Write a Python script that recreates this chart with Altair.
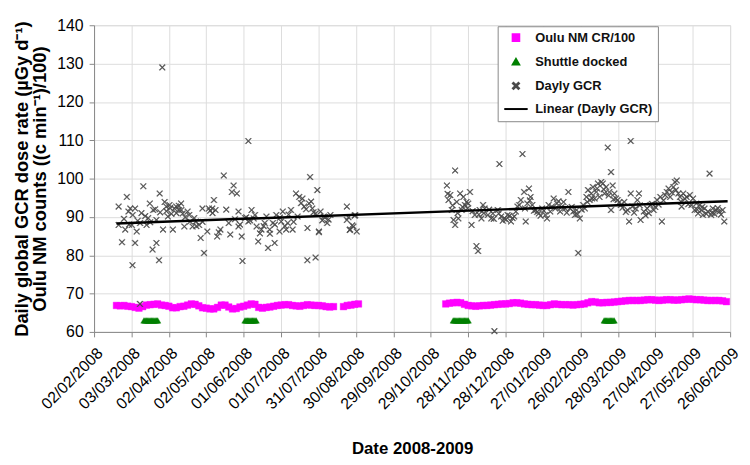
import altair as alt
import pandas as pd

BASE = pd.Timestamp("2008-02-02")

tick_labels = ["02/02/2008", "03/03/2008", "02/04/2008", "02/05/2008", "01/06/2008",
               "01/07/2008", "31/07/2008", "30/08/2008", "29/09/2008", "29/10/2008",
               "28/11/2008", "28/12/2008", "27/01/2009", "26/02/2009", "28/03/2009",
               "27/04/2009", "27/05/2009", "26/06/2009"]
y_ticks = [60, 70, 80, 90, 100, 110, 120, 130, 140]

series_names = ["Oulu NM CR/100", "Shuttle docked", "Dayly GCR", "Linear (Dayly GCR)"]
series_colors = ["#FF00FF", "#008000", "#4a4a4a", "#000000"]
X_PATH = "M-1,-0.8L-0.8,-1L0,-0.2L0.8,-1L1,-0.8L0.2,0L1,0.8L0.8,1L0,0.2L-0.8,1L-1,0.8L-0.2,0Z"
series_shapes = ["square", "triangle-up", X_PATH, "M-4,0L4,0"]
series_sizes = [45, 35, 16, 30]

# Oulu NM CR/100 : segments, first day (days after 02/02/2008), one value every 3 days
oulu_seg_first_day = [18, 200, 282]
oulu_seg_step = 3
oulu_seg_values = [
    [66.9, 66.8, 66.9, 66.7, 66.6, 66.4, 66.2, 66.6, 67.0, 67.1, 67.2, 67.3, 67.0, 66.9, 66.7,
     66.3, 66.3, 66.6, 66.7, 67.0, 67.3, 67.2, 66.8, 66.3, 66.2, 66.0, 66.0, 66.4, 67.0, 67.0,
     66.5, 66.0, 66.1, 66.5, 66.7, 67.0, 67.3, 67.2, 66.4, 66.2, 66.4, 66.5, 66.7, 66.9, 67.0,
     67.1, 67.1, 66.9, 66.8, 66.7, 66.9, 67.1, 67.0, 66.9, 66.9, 66.8, 66.6, 66.5, 66.6],
    [66.6, 66.9, 67.0, 67.2, 67.3],
    [67.3, 67.5, 67.6, 67.7, 67.6, 67.2, 66.9, 66.8, 66.7, 66.8, 66.9, 66.9, 67.0, 67.1, 67.2,
     67.3, 67.3, 67.4, 67.6, 67.6, 67.5, 67.3, 67.2, 67.1, 67.1, 67.0, 66.9, 66.9, 67.1, 67.3,
     67.2, 67.1, 67.1, 67.1, 67.0, 67.1, 67.2, 67.3, 67.6, 67.9, 67.8, 67.6, 67.6, 67.7, 67.7,
     67.8, 67.9, 68.0, 68.1, 68.2, 68.2, 68.2, 68.2, 68.3, 68.4, 68.4, 68.3, 68.2, 68.3, 68.4,
     68.4, 68.3, 68.3, 68.4, 68.5, 68.6, 68.5, 68.4, 68.4, 68.3, 68.2, 68.2, 68.2, 68.2, 68.1,
     67.9],
]

# Shuttle docked periods
shuttle_start = ["2008-03-13", "2008-06-02", "2008-11-16", "2009-03-17"]
shuttle_end = ["2008-03-24", "2008-06-11", "2008-11-28", "2009-03-25"]
shuttle_level = 63.0

# Dayly GCR (day after 02/02/2008, value)
gcr_day = [19.7, 19.7, 22.4, 25, 26.3, 27.6, 29, 30.3, 30.8, 32.9, 32.9, 34.2, 36.8, 36.9, 39.5,
           42.1, 43.4, 44.7, 46.9, 47.4, 50, 50, 52.1, 52.6, 54.7, 55.3, 56.6, 57.9, 59.2, 60.5,
           63.2, 64.5, 65.8, 67.9, 69.8, 71.1, 72.4, 75, 76.3, 79, 80.3, 81.6, 84.2, 85.5, 86.9,
           88.2, 90.8, 92.1, 94.8, 96.1, 97.4, 98.7, 101.3, 104, 109.2, 110.5, 111.9, 114.5,
           115.8, 115.8, 118.4, 119, 121.1, 123.7, 123.7, 126.3, 129, 130.3, 131.6, 134.2, 136.9,
           138.2, 139.5, 140.8, 143.4, 144.8, 146.1, 148.7, 150, 151.3, 154, 155.3, 157.9, 159.2,
           161.9, 163.2, 164.5, 167.1, 168.5, 171, 171.1, 172.4, 173.2, 175, 177.6, 177.7, 179,
           180.3, 180.3, 181.6, 184.2, 186.9, 189.5, 202.7, 202.7, 205, 205.3, 208, 209, 209.3,
           210.6,
           282.9, 284.2, 285.6, 286.9, 288.2, 289.5, 289.5, 290.8, 292.1, 293.5, 294.8, 296.1,
           297.4, 298.7, 300, 301.4, 302.7, 305.3, 306.6, 307.9, 309.2, 310.6, 311.9, 313.2,
           315.8, 318.5, 319.8, 321, 323.7, 325, 326.4, 329, 331.6, 334.3, 336.9, 339.5, 342.2,
           343.5, 344.8, 346.1, 347.4, 348.7, 350, 351.4, 354, 356.6, 359.3, 361.9, 363.2, 364.5,
           365.8, 368.5, 369.8, 371.1, 373.7, 376.4, 377.7, 380.3, 381.6, 384.3, 385.6, 386.9,
           388.2, 389.5, 392.2, 393.5, 394.8, 396.1, 397.4, 398.7, 400, 401.4, 402.7, 404, 405.3,
           406.6, 407.9, 409.3, 410.6, 411.9, 413.2, 414.5, 414.5, 415.8, 417.2, 418.5, 419.8,
           422.4, 425.1, 427.7, 429, 430.3, 430.3, 431.6, 434.3, 435.6, 436.9, 438.2, 440.8,
           443.5, 446.1, 448.7, 451.4, 454, 455.3, 457.9, 459.3, 460.6, 461.9, 464.5, 465.8,
           467.2, 468.5, 469.8, 471.1, 472.4, 475.1, 477.7, 480.3, 481.6, 482.9, 484.3, 485.6,
           486.9, 488.2, 489.5, 492.2, 493.5, 494.8, 496.1, 498.7, 501.4, 504, 505.3]
gcr_val = [92.7, 87.9, 83.4, 86.7, 95.2, 91.4, 92.2, 87.9, 77.4, 92.2, 83.2, 86.2, 67.3, 88.4, 98.0,
           87.9, 89.7, 93.5, 81.5, 91.8, 83.2, 89.2, 78.7, 96.1, 129.0, 86.7, 93.9, 92.7, 90.1, 93.1,
           86.7, 92.2, 92.7, 91.8, 93.5, 90.9, 87.5, 91.4, 90.5, 87.5, 89.7, 88.8, 87.9, 84.5, 92.2,
           80.6, 86.2, 92.2, 92.2, 94.4, 91.8, 84.9, 86.7, 100.8, 85.4, 96.5, 98.2, 96.1,
           91.4, 87.5, 84.9, 78.5, 89.7, 88.8, 109.8, 91.8, 90.5, 87.5, 83.6, 86.7, 88.4,
           90.1, 81.9, 86.7, 88.4, 83.2, 90.5, 86.2, 88.8, 91.4, 86.7, 88.4, 91.8, 86.7,
           96.1, 90.1, 95.2, 94.8, 92.7, 78.7, 87.1, 93.5, 100.4, 92.2, 79.4, 90.9, 97.0,
           86.2, 86.0, 91.4, 90.1, 88.4, 90.5, 92.7, 89.2, 86.6, 86.7, 87.5, 90.3, 90.5,
           86.2,
           98.2, 94.4, 95.7, 91.8, 89.2, 102.1, 87.9, 93.9, 89.6, 96.1, 91.8, 95.2,
           93.1, 93.9, 93.5, 96.5, 87.9, 90.5, 82.4, 81.1, 91.8, 89.6, 93.1, 92.2,
           90.5, 89.6, 90.9, 60.2, 91.8, 103.8, 90.1, 89.6, 90.5, 88.8, 90.1, 92.7, 94.4,
           106.4, 96.5, 88.8, 93.5, 97.4, 95.2, 93.1, 91.8, 90.9, 92.2, 90.5, 89.6, 93.1,
           91.4, 94.8, 92.2, 93.5, 91.4, 93.9, 92.2, 96.5, 92.2, 91.4, 90.5, 91.8,
           80.6, 89.6, 93.1, 92.2, 95.2, 97.0, 94.4, 96.1, 97.8, 94.8, 96.5, 98.7, 95.2,
           99.1, 98.7, 96.1, 97.8, 108.1, 96.5, 101.7, 91.8, 98.2, 96.1, 94.8, 94.4,
           93.1, 93.9, 91.8, 88.8, 96.1, 109.8, 92.7, 92.2, 94.4, 96.1, 89.2, 91.4,
           92.2, 93.1, 91.8, 94.4, 95.2, 88.8, 95.7, 96.5, 97.4, 95.2, 97.8, 99.1,
           99.5, 96.1, 95.2, 92.7, 96.1, 95.2, 95.7, 94.8, 91.8, 93.5, 90.9, 93.1,
           91.8, 90.5, 92.2, 91.4, 101.3, 90.5, 92.2, 91.8, 91.4, 91.8, 88.8]

# further Dayly GCR points read from the dense clusters (day, value)
gcr_dense = [(24, 89.5), (28, 88.0), (31, 90.5), (35, 89.0), (38, 91.0), (41, 90.2), (45, 88.6),
             (49, 92.0), (53, 91.2), (58, 91.5), (61, 92.3), (62, 90.8), (66, 91.0), (68, 92.9),
             (70, 91.8), (73, 89.9), (77, 88.8), (82, 87.6), (87, 88.7), (93, 91.6), (95, 91.0),
             (100, 86.0), (106, 91.9), (108, 88.4), (113, 89.4), (117, 88.0), (122, 89.9),
             (125, 89.1), (128, 89.6), (133, 85.7), (136, 87.6), (141, 85.6), (145, 88.0),
             (149, 89.8), (153, 87.6), (156, 90.6), (160, 88.7), (166, 93.6), (170, 92.0),
             (174, 94.0), (176, 91.2), (183, 89.1), (185, 89.9), (188, 89.3), (204, 89.9),
             (207, 87.8),
             (283.5, 96.0), (287.5, 93.0), (291.5, 91.0), (295.5, 92.6), (299.4, 92.2),
             (303.5, 91.5), (308.5, 90.6), (312.5, 91.0), (316.8, 91.9), (320.5, 89.5),
             (324.5, 90.9), (327.7, 89.0), (330.3, 89.3), (333, 90.3), (335.6, 89.7),
             (338.2, 91.4), (340.9, 93.1), (345.5, 92.2), (349.4, 94.3), (352.7, 91.6),
             (355.3, 91.3), (358, 90.3), (360.6, 91.6), (367.1, 92.7), (372.4, 94.1), (375, 92.6),
             (379, 91.1), (383, 92.6), (387.6, 90.7), (391, 91.9), (395.5, 93.9), (399.4, 94.8),
             (403.4, 97.4), (408.6, 97.2), (412.6, 95.6), (416.5, 94.6), (421.1, 93.8),
             (423.7, 92.4), (426.4, 91.3), (433, 91.1), (437.6, 93.0), (442.2, 90.4),
             (444.8, 91.0), (447.4, 93.4), (450, 92.6), (452.7, 93.2), (456.6, 94.3),
             (463.2, 96.4), (466.5, 97.0), (470.5, 94.0), (473.8, 94.7), (476.4, 93.3),
             (479, 93.1), (483.6, 91.9), (487.6, 92.6), (490.9, 90.8), (495.4, 91.1),
             (497.4, 90.8), (500.1, 92.3), (502.7, 90.6)]

# Linear trend (Dayly GCR) end points
trend_dates = ["2008-02-20", "2009-06-24"]
trend_vals = [88.3, 94.1]

# ---------- build table ----------
rows = []
for first, vals in zip(oulu_seg_first_day, oulu_seg_values):
    for i, v in enumerate(vals):
        d = BASE + pd.Timedelta(days=first + i * oulu_seg_step)
        rows.append({"date": d.strftime("%Y-%m-%d"), "value": v, "series": series_names[0]})
for s, e in zip(shuttle_start, shuttle_end):
    for d in pd.date_range(s, e, freq="D"):
        rows.append({"date": d.strftime("%Y-%m-%d"), "value": shuttle_level, "series": series_names[1]})
for dd, v in list(zip(gcr_day, gcr_val)) + gcr_dense:
    d = BASE + pd.Timedelta(days=dd)
    rows.append({"date": d.strftime("%Y-%m-%dT%H:%M:%SZ"), "value": v, "series": series_names[2]})
points = pd.DataFrame(rows)
trend = pd.DataFrame({"date": trend_dates, "value": trend_vals, "series": series_names[3]})


def dt(lbl):
    d, m, y = [int(p) for p in lbl.split("/")]
    return alt.DateTime(year=y, month=m, date=d, utc=True)


FONT = "Liberation Sans"
x_enc = alt.X(
    "date:T",
    scale=alt.Scale(type="utc", domain=[dt(tick_labels[0]), dt(tick_labels[-1])]),
    axis=alt.Axis(values=[dt(l) for l in tick_labels], tickCount=40, format="%d/%m/%Y", labelAngle=-45,
                  labelOverlap=False, labelBound=False,
                  title="Date 2008-2009", titleFontSize=17, titleFontWeight="bold",
                  titlePadding=29, labelFontSize=16, tickSize=5, labelPadding=8),
)
y_enc = alt.Y(
    "value:Q",
    scale=alt.Scale(domain=[60, 140], nice=False, zero=False),
    axis=alt.Axis(values=y_ticks, tickCount=40, labelOverlap=False,
                  title=["Daily global GCR dose rate (µGy d⁻¹)", "Oulu NM counts ((c min⁻¹)/100)"],
                  titleFontSize=18.5, titleFontWeight="bold", titleLineHeight=19,
                  labelFontSize=16, tickSize=5, labelPadding=6, titlePadding=7),
)

legend = alt.Legend(title=None, orient="none", legendX=408, legendY=1,
                    labelFont=FONT, labelFontSize=13, labelFontWeight="bold", labelColor="#111",
                    symbolStrokeWidth=2, labelOffset=13, symbolOffset=7,
                    rowPadding=9.4, padding=5, strokeColor="#888", fillColor="white")
fill_enc = alt.Fill("series:N", scale=alt.Scale(domain=series_names, range=series_colors), legend=legend)
stroke_enc = alt.Stroke("series:N", scale=alt.Scale(domain=series_names, range=series_colors), legend=legend)
shape_enc = alt.Shape("series:N", scale=alt.Scale(domain=series_names, range=series_shapes), legend=legend)
size_enc = alt.Size("series:N", scale=alt.Scale(domain=series_names, range=series_sizes), legend=legend)

pts = alt.Chart(points).mark_point(filled=True, opacity=1, strokeWidth=0.4).encode(
    x=x_enc, y=y_enc, fill=fill_enc, stroke=stroke_enc, shape=shape_enc, size=size_enc
)
line = alt.Chart(trend).mark_line(strokeWidth=2.5).encode(
    x="date:T", y="value:Q", stroke=stroke_enc
)

chart = alt.layer(pts, line).properties(
    width=643, height=310,
    autosize=alt.AutoSizeParams(type="none"),
    padding={"left": 87, "top": 15, "right": 12, "bottom": 124},
).configure_view(stroke=None).configure_axis(
    labelFont=FONT, titleFont=FONT, labelColor="#222", titleColor="#111",
    gridColor="#888", gridWidth=1, domainColor="#666", tickColor="#666",
).configure(background="white")

chart.save("out.html", embed_options={"renderer": "svg", "actions": False})
